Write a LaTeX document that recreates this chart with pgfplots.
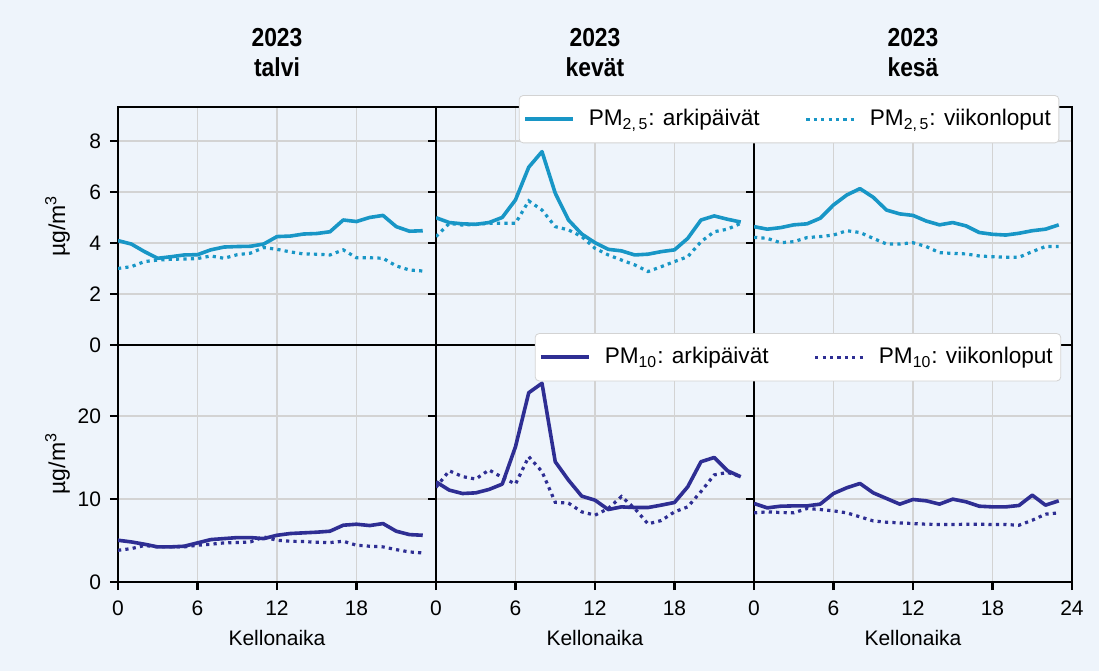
\documentclass[border=0pt]{standalone}
\usepackage{fontspec}
\setmainfont{Liberation Sans}
\newfontfamily\titlefont{Liberation Sans}[FakeStretch=0.88]
\usepackage{pgfplots}
\usepackage{pgfplotstable}
\pgfplotsset{compat=1.18}
\definecolor{bg}{HTML}{EEF4FB}
\definecolor{pmA}{HTML}{1896C6}
\definecolor{pmB}{HTML}{2E2E93}
\definecolor{gridc}{HTML}{D3D3D3}

\pgfplotstableread{
h wd we
0 4.09 3.00
1 3.96 3.07
2 3.66 3.27
3 3.40 3.33
4 3.46 3.36
5 3.53 3.37
6 3.54 3.39
7 3.73 3.49
8 3.84 3.40
9 3.86 3.54
10 3.87 3.60
11 3.96 3.82
12 4.25 3.75
13 4.27 3.65
14 4.35 3.57
15 4.37 3.56
16 4.44 3.53
17 4.90 3.73
18 4.84 3.42
19 5.00 3.42
20 5.08 3.40
21 4.64 3.10
22 4.46 2.94
23 4.48 2.90
}\talviA
\pgfplotstableread{
h wd we
0 4.99 4.25
1 4.80 4.77
2 4.75 4.70
3 4.73 4.73
4 4.80 4.77
5 5.00 4.77
6 5.69 4.77
7 6.97 5.65
8 7.58 5.29
9 5.95 4.64
10 4.90 4.51
11 4.35 4.25
12 4.01 3.79
13 3.75 3.53
14 3.69 3.33
15 3.53 3.14
16 3.56 2.88
17 3.66 3.07
18 3.73 3.27
19 4.18 3.46
20 4.90 4.05
21 5.06 4.44
22 4.93 4.54
23 4.82 4.77
}\kevatA
\pgfplotstableread{
h wd we
0 4.64 4.22
1 4.54 4.18
2 4.60 4.01
3 4.71 4.05
4 4.75 4.21
5 4.97 4.25
6 5.49 4.31
7 5.88 4.48
8 6.13 4.41
9 5.79 4.18
10 5.29 3.96
11 5.14 3.96
12 5.08 4.01
13 4.86 3.86
14 4.71 3.62
15 4.80 3.59
16 4.67 3.57
17 4.41 3.49
18 4.34 3.46
19 4.31 3.44
20 4.38 3.44
21 4.48 3.66
22 4.54 3.86
23 4.71 3.86
}\kesaA
\pgfplotstableread{
h wd we
0 5.03 3.82
1 4.83 4.02
2 4.55 4.40
3 4.23 4.23
4 4.23 4.23
5 4.31 4.23
6 4.71 4.43
7 5.11 4.55
8 5.23 4.71
9 5.35 4.75
10 5.35 4.83
11 5.23 5.43
12 5.63 5.03
13 5.84 4.91
14 5.92 4.87
15 6.00 4.79
16 6.12 4.75
17 6.84 4.91
18 6.96 4.43
19 6.80 4.31
20 7.04 4.23
21 6.12 3.90
22 5.71 3.62
23 5.63 3.50
}\talviB
\pgfplotstableread{
h wd we
0 12.07 11.4
1 11.07 13.4
2 10.66 12.7
3 10.74 12.4
4 11.15 13.5
5 11.79 12.6
6 16.30 11.8
7 22.80 15.1
8 23.94 13.3
9 14.49 9.6
10 12.27 9.5
11 10.34 8.45
12 9.86 8.05
13 8.73 8.85
14 9.05 10.3
15 8.97 8.85
16 8.97 7.0
17 9.26 7.4
18 9.58 8.45
19 11.47 9.05
20 14.49 10.9
21 15.00 12.9
22 13.40 13.2
23 12.68 12.7
}\kevatB
\pgfplotstableread{
h wd we
0 9.46 8.33
1 8.93 8.45
2 9.13 8.37
3 9.17 8.33
4 9.17 8.85
5 9.38 8.73
6 10.66 8.57
7 11.35 8.33
8 11.87 7.85
9 10.74 7.36
10 10.06 7.20
11 9.38 7.12
12 9.94 7.04
13 9.78 6.96
14 9.38 6.92
15 9.98 6.92
16 9.66 6.96
17 9.13 6.96
18 9.05 6.92
19 9.05 6.92
20 9.22 6.84
21 10.46 7.44
22 9.26 8.17
23 9.78 8.33
}\kesaB

\pgfplotsset{
  panel/.style={
    scale only axis, width=159pt, anchor=south west,
    xmin=0, xmax=24, xtick={0,6,12,18},
    grid=major, major grid style={gridc, line width=0.6pt},
    axis line style={black, line width=1.1pt},
    tick style={black, line width=1.1pt}, major tick length=4pt,
    tick align=outside, xtick pos=bottom, ytick pos=left,
    /pgf/number format/assume math mode=true,
    every tick label/.append style={font=\fontsize{10.5}{12}\selectfont},
    xticklabel style={yshift=-2pt},
    yticklabel style={xshift=-1pt},
    xlabel style={at={(axis description cs:0.5,-0.236)}, anchor=center, font=\fontsize{10.5}{12}\selectfont},
    ylabel style={at={(axis description cs:-0.19,0.5)}, anchor=center, font=\fontsize{11.5}{13}\selectfont},
    title style={at={(axis description cs:0.5,1.18)}, anchor=center, align=center, font=\titlefont\bfseries\fontsize{13}{15}\selectfont},
    legend cell align=left,
    legend image code/.code={\draw[#1] (0pt,0pt) -- (24pt,0pt);},
  },
  toprow/.style={height=119pt, ymin=0, ymax=9.33, ytick={0,2,4,6,8}, xticklabels={}, xtick style={draw=none}},
  botrow/.style={height=118.5pt, ymin=0, ymax=28.55, ytick={0,10,20}, xlabel={Kellonaika}},
  solidA/.style={pmA, line width=1.8pt, line join=round, mark=none},
  dotA/.style={pmA, line width=1.6pt, dash pattern=on 1.6pt off 2.1pt, mark=none},
  solidB/.style={pmB, line width=1.8pt, line join=round, mark=none},
  dotB/.style={pmB, line width=1.6pt, dash pattern=on 1.6pt off 2.1pt, mark=none},
  leg/.style={legend style={at={(axis description cs:#1)}, anchor=north east, legend columns=2,
    fill=white, draw=gridc, rounded corners=2pt, font=\fontsize{11.3}{13}\selectfont,
    inner xsep=2pt, inner ysep=5pt,
    /tikz/every odd column/.append style={column sep=5pt},
    /tikz/every even column/.append style={column sep=20.5pt}}},
}

\begin{document}
\begin{tikzpicture}
\fill[bg] (0,0) rectangle (549.5pt,335.5pt);
\useasboundingbox (0,0) rectangle (549.5pt,335.5pt);

% top row
\begin{axis}[panel, toprow, at={(59pt,163pt)}, title={2023\\talvi}, ylabel={µg/m\textsuperscript{3}}]
\addplot[solidA] table[x=h,y=wd]{\talviA};
\addplot[dotA] table[x=h,y=we]{\talviA};
\end{axis}
\begin{axis}[panel, toprow, at={(218pt,163pt)}, title={2023\\kevät}, yticklabels={}]
\addplot[solidA] table[x=h,y=wd]{\kevatA};
\addplot[dotA] table[x=h,y=we]{\kevatA};
\end{axis}
\begin{axis}[panel, toprow, at={(377pt,163pt)}, title={2023\\kesä}, yticklabels={}, leg={0.96,1.05}]
\addplot[solidA] table[x=h,y=wd]{\kesaA};
\addlegendentry{PM\textsubscript{2,\,5}: arkipäivät}
\addplot[dotA] table[x=h,y=we]{\kesaA};
\addlegendentry{PM\textsubscript{2,\,5}: viikonloput}
\end{axis}

% bottom row
\begin{axis}[panel, botrow, at={(59pt,44.5pt)}, ylabel={µg/m\textsuperscript{3}}]
\addplot[solidB] table[x=h,y=wd]{\talviB};
\addplot[dotB] table[x=h,y=we]{\talviB};
\end{axis}
\begin{axis}[panel, botrow, at={(218pt,44.5pt)}, yticklabels={}]
\addplot[solidB] table[x=h,y=wd]{\kevatB};
\addplot[dotB] table[x=h,y=we]{\kevatB};
\end{axis}
\begin{axis}[panel, botrow, at={(377pt,44.5pt)}, xtick={0,6,12,18,24}, yticklabels={}, leg={0.966,1.05}]
\addplot[solidB] table[x=h,y=wd]{\kesaB};
\addlegendentry{PM\textsubscript{10}: arkipäivät}
\addplot[dotB] table[x=h,y=we]{\kesaB};
\addlegendentry{PM\textsubscript{10}: viikonloput}
\end{axis}
\end{tikzpicture}
\end{document}
